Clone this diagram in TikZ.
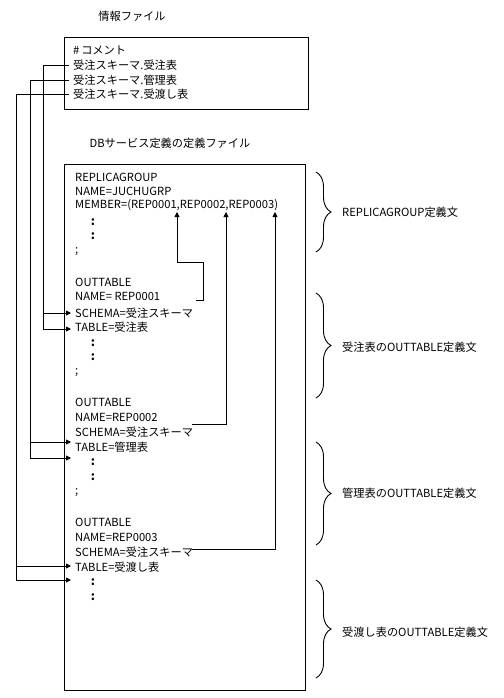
\documentclass[tikz,border=0pt]{standalone}
\usepackage{fontspec}
\setmainfont{Noto Sans CJK JP}
\usetikzlibrary{arrows.meta,decorations.pathreplacing,calc}
\begin{document}
\begin{tikzpicture}[x=1pt,y=-1pt,
  txt/.style={anchor=west,inner xsep=4pt,inner ysep=0pt,font=\fontsize{11.2}{13}\selectfont},
  ttl/.style={txt,anchor=center},
  dotn/.style={txt,anchor=center,font=\fontsize{12}{13}\selectfont\bfseries},
  box/.style={draw,line width=0.9pt,inner sep=0pt,anchor=north west},
  ln/.style={line width=0.9pt},
  arr/.style={ln,-{Triangle[length=5pt,width=5pt]}},
  brc/.style={ln,decorate,decoration={brace,amplitude=15pt}}]
\useasboundingbox (0,0) rectangle (503,698);
% titles
\node[ttl] (ttl1) at (132,16) {情報ファイル};
\node[ttl] (ttl2) at (170,143) {DBサービス定義の定義ファイル};
% boxes
\node[box,minimum width=244pt,minimum height=72pt] (infobox) at (64,37) {};
\node[box,minimum width=241pt,minimum height=526pt] (dbbox) at (64,164) {};
% info file lines
\node[txt] (c0) at (69,50) {\#\,コメント};
\node[txt] (i1) at (69,65) {受注スキーマ.受注表};
\node[txt] (i2) at (69,80) {受注スキーマ.管理表};
\node[txt] (i3) at (69,94) {受注スキーマ.受渡し表};
% definition file lines
\node[txt] (r1) at (71,177) {REPLICAGROUP};
\node[txt] (r2) at (71,191) {NAME=JUCHUGRP};
\node[txt] (r3) at (71,205) {MEMBER=(REP0001,REP0002,REP0003)};
\node[dotn] (d1) at (93,222) {:};
\node[dotn] (d2) at (93,236) {:};
\node[txt] (sc1) at (71,252) {;};
\node[txt] (o1) at (71,282) {OUTTABLE};
\node[txt] (n1) at (71,296) {NAME= REP0001};
\node[txt] (s1) at (71,313) {SCHEMA=受注スキーマ};
\node[txt] (tb1) at (71,327) {TABLE=受注表};
\node[dotn] (d3) at (93,343) {:};
\node[dotn] (d4) at (93,357) {:};
\node[txt] (sc2) at (71,373) {;};
\node[txt] (o2) at (71,402) {OUTTABLE};
\node[txt] (n2) at (71,417) {NAME=REP0002};
\node[txt] (s2) at (71,432) {SCHEMA=受注スキーマ};
\node[txt] (tb2) at (71,447) {TABLE=管理表};
\node[dotn] (d5) at (93,462) {:};
\node[dotn] (d6) at (93,477) {:};
\node[txt] (sc3) at (71,493) {;};
\node[txt] (o3) at (71,522) {OUTTABLE};
\node[txt] (n3) at (71,537) {NAME=REP0003};
\node[txt] (s3) at (71,552) {SCHEMA=受注スキーマ};
\node[txt] (tb3) at (71,567) {TABLE=受渡し表};
\node[dotn] (d7) at (93,582) {:};
\node[dotn] (d8) at (93,597) {:};
% left buses
\coordinate (b1) at (43,0);
\coordinate (b2) at (30,0);
\coordinate (b3) at (16,0);
\coordinate (a1a) at (71,313);
\coordinate (a1b) at (71,329);
\coordinate (a2a) at (71,442);
\coordinate (a2b) at (71,458);
\coordinate (a3a) at (71,566);
\coordinate (a3b) at (71,580);
\draw[ln] (i1.west) -| (b1 |- a1b);
\draw[arr] (b1 |- a1a) -- (a1a);
\draw[arr] (b1 |- a1b) -- (a1b);
\draw[ln] (i2.west) -| (b2 |- a2b);
\draw[arr] (b2 |- a2a) -- (a2a);
\draw[arr] (b2 |- a2b) -- (a2b);
\draw[ln] (i3.west) -| (b3 |- a3b);
\draw[arr] (b3 |- a3a) -- (a3a);
\draw[arr] (b3 |- a3b) -- (a3b);
% member arrows
\coordinate (m1) at (177,212);
\coordinate (m2) at (226,212);
\coordinate (m3) at (275,212);
\coordinate (p1) at (196,300);
\coordinate (p2) at (192,424);
\coordinate (p3) at (192,549);
\draw[arr] (p1) -- (203,300) -- (203,262) -| (m1);
\draw[arr] (p2) -| (m2);
\draw[arr] (p3) -| (m3);
% braces
\draw[brc] (316,172) coordinate (br1t) -- (316,252) coordinate (br1b);
\draw[brc] (316,293) coordinate (br2t) -- (316,398) coordinate (br2b);
\draw[brc] (316,442) coordinate (br3t) -- (316,545) coordinate (br3b);
\draw[brc] (316,580) coordinate (br4t) -- (316,678) coordinate (br4b);
\node[txt] (l1) at (338,212) {REPLICAGROUP定義文};
\node[txt] (l2) at (338,347) {受注表のOUTTABLE定義文};
\node[txt] (l3) at (338,493) {管理表のOUTTABLE定義文};
\node[txt] (l4) at (338,632) {受渡し表のOUTTABLE定義文};
\end{tikzpicture}
\end{document}
